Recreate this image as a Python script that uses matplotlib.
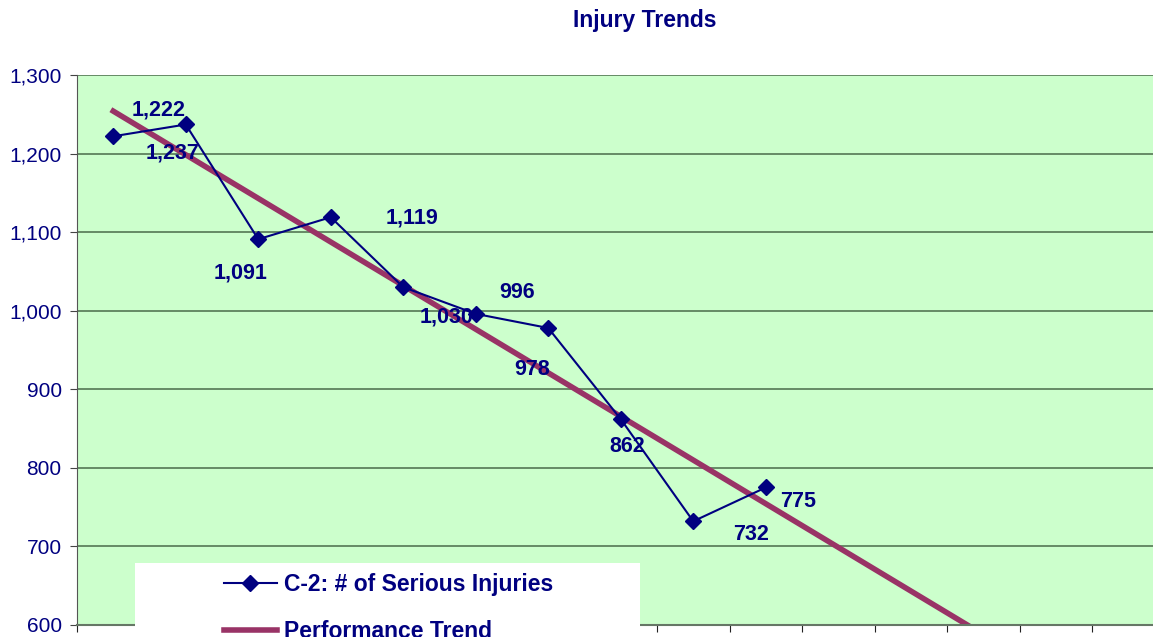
import numpy as np
import matplotlib.pyplot as plt
from matplotlib.patches import Rectangle

plt.rcParams['font.family'] = ['Liberation Sans', 'DejaVu Sans']

# Serious injuries per period
injuries = [1222, 1237, 1091, 1119, 1030, 996, 978, 862, 732, 775]
n_slots = 15  # category slots on the x axis (most still empty)

# label offsets in pixels, as they sit in the original chart
label_offsets = [(45, 26), (-13, -28), (-18, -34), (81, -1), (43, -30),
                 (41, 21), (-16, -42), (7, -27), (58, -13), (32, -14)]

navy = '#000080'
plum = '#993366'

fig = plt.figure(figsize=(11.53, 6.37), dpi=100)
ax = fig.add_axes([77 / 1153, 12 / 637, n_slots * 72.5 / 1153, 550 / 637])
ax.set_facecolor('#CCFFCC')

x = np.arange(len(injuries)) + 0.5
ax.plot(x, injuries, color=navy, lw=1.5, marker='D', ms=8.5,
        label='C-2: # of Serious Injuries', zorder=3)

# linear performance trend fitted to the series
slope, intercept = np.polyfit(np.arange(len(injuries)), injuries, 1)
xt = np.array([0.5, n_slots + 1])
ax.plot(xt, intercept + slope * (xt - 0.5), color=plum, lw=4,
        label='Performance Trend', zorder=2)

for xi, v, (dx, dy) in zip(x, injuries, label_offsets):
    ax.annotate(f'{v:,}', (xi, v), xytext=(dx * 0.72, dy * 0.72),
                textcoords='offset points', ha='center', va='center',
                fontsize=15.5, fontweight='bold', color=navy, zorder=4)

ax.set_xlim(0, n_slots)
ax.set_ylim(600, 1300)
ax.set_yticks(range(600, 1301, 100))
ax.set_yticklabels([f'{v:,}' for v in range(600, 1301, 100)])
ax.set_xticks(range(n_slots + 1))
ax.set_xticklabels([])
ax.tick_params(axis='y', labelsize=15, labelcolor=navy, length=5,
               color='#444444', pad=6)
ax.tick_params(axis='x', length=5, color='#222222')
ax.grid(axis='y', color='#557755', lw=1.2)
ax.set_axisbelow(True)
for side in ['top', 'right']:
    ax.spines[side].set_visible(False)
ax.spines['left'].set_color('#555555')
ax.spines['bottom'].set_color('#667766')
ax.spines['bottom'].set_linewidth(1.5)

fig.text(645 / 1153, 1 - 20 / 637, 'Injury Trends', ha='center', va='center',
         fontsize=16.5, fontweight='bold', color=navy)

# white legend panel
fig.patches.append(Rectangle((135 / 1153, 0), 505 / 1153, 74 / 637,
                             transform=fig.transFigure, facecolor='white',
                             edgecolor='none', zorder=5))
leg = fig.legend(loc='upper left', bbox_to_anchor=(224 / 1153, 1 - 573 / 637),
                 frameon=False, fontsize=16.5, handlelength=2.3,
                 handletextpad=0.3, labelspacing=1.05, borderaxespad=0,
                 borderpad=0)
leg.set_zorder(6)
for t in leg.get_texts():
    t.set_color(navy)
    t.set_fontweight('bold')

fig.savefig('out.png', dpi=100)
